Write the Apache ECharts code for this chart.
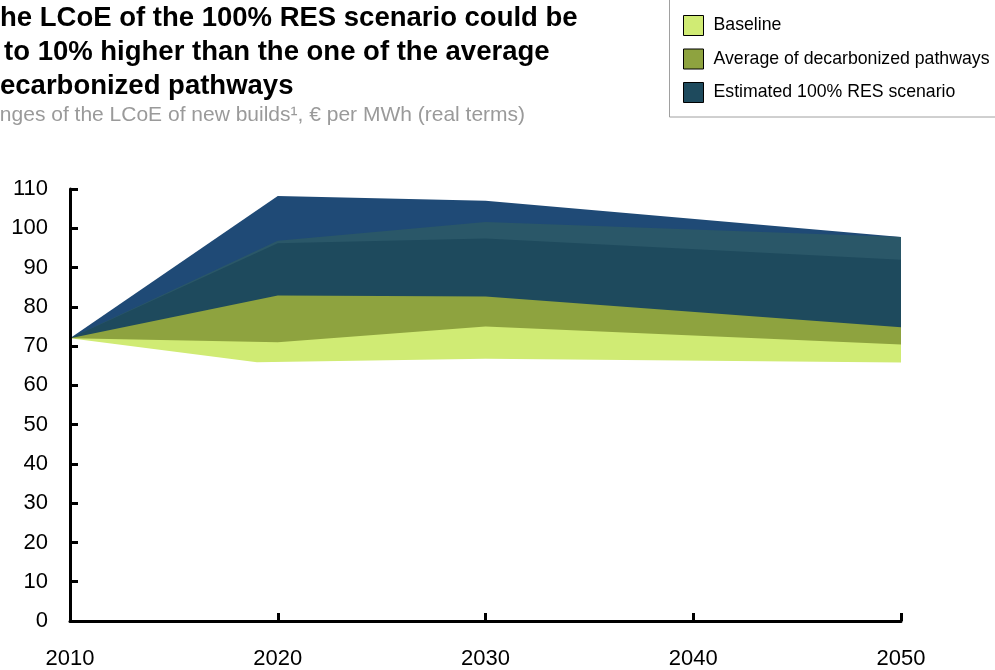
<!DOCTYPE html>
<html>
<head>
<meta charset="utf-8">
<script src="https://cdn.jsdelivr.net/npm/echarts@6/dist/echarts.min.js"></script>
<style>
html,body{margin:0;padding:0;background:#fff;}
#chart{width:995px;height:670px;}
</style>
</head>
<body>
<div id="chart"></div>
<script>
// ---- data ----
const years = [2010, 2020, 2030, 2050];
const baselineLowYears = [2010, 2019, 2030, 2050];
const resUpper = [72, 108.2, 107, 97.8];          // upper edge of 100% RES range
const resOverlapUpper = [72, 96.8, 101.6, 97.8];  // upper edge of overlap band
const resCoreUpper = [72, 96.2, 97.4, 92];        // upper edge of core RES band
const decarbUpper = [72, 82.9, 82.6, 74.8];       // upper edge of decarbonized pathways
const baselineUpper = [72, 71, 75, 70.4];         // upper edge of baseline
const baselineLower = [72, 65.9, 66.8, 65.8];     // lower edge of baseline
const xTickLabels = ['2010', '2020', '2030', '2040', '2050'];
const yTickLabels = ['0','10','20','30','40','50','60','70','80','90','100','110'];
const legendNames = ['Baseline', 'Average of decarbonized pathways', 'Estimated 100% RES scenario'];
const titleLines = ['The LCoE of the 100% RES scenario could be', 'up to 10% higher than the one of the average', 'decarbonized pathways'];
const subtitle = 'Ranges of the LCoE of new builds\u00B9, \u20AC per MWh (real terms)';

const pairs = (xs, ys) => xs.map((x, i) => [x, ys[i]]);
const FONT = 'Liberation Sans, Arial, sans-serif';

function band(name, xs, ys, color) {
  return {
    name: name,
    type: 'line',
    data: pairs(xs, ys),
    showSymbol: false,
    symbol: 'none',
    smooth: false,
    silent: true,
    color: color,
    itemStyle: { color: color },
    lineStyle: { width: 0, color: color },
    areaStyle: { color: color, opacity: 1 },
    z: 2
  };
}

const chart = echarts.init(document.getElementById('chart'), null, { renderer: 'canvas' });
chart.setOption({
  animation: false,
  backgroundColor: '#fff',
  textStyle: { fontFamily: FONT },
  grid: { left: 70, right: 94, top: 189, bottom: 47, containLabel: false },
  xAxis: {
    type: 'value', min: 2010, max: 2050, interval: 10, z: 5,
    axisLine: { lineStyle: { color: '#000', width: 3 } },
    axisTick: { inside: true, length: 8, lineStyle: { color: '#000', width: 3 } },
    axisLabel: {
      margin: 27, color: '#000', fontSize: 22, fontFamily: FONT,
      formatter: v => xTickLabels[Math.round((v - 2010) / 10)]
    },
    splitLine: { show: false }
  },
  yAxis: {
    type: 'value', min: 0, max: 110, interval: 10, z: 5,
    axisLine: { show: true, lineStyle: { color: '#000', width: 3 } },
    axisTick: { show: true, inside: true, length: 8, lineStyle: { color: '#000', width: 3 } },
    axisLabel: {
      margin: 22, color: '#000', fontSize: 22, fontFamily: FONT,
      formatter: v => yTickLabels[Math.round(v / 10)]
    },
    splitLine: { show: false }
  },
  legend: {
    data: legendNames,
    orient: 'vertical',
    left: 683, top: 15, padding: 0,
    itemWidth: 20, itemHeight: 20, itemGap: 12.5,
    icon: 'rect',
    selectedMode: false,
    itemStyle: { borderColor: '#000', borderWidth: 1 },
    textStyle: { color: '#000', fontSize: 17.7, fontFamily: FONT, padding: [0, 0, 0, 5] }
  },
  graphic: [
    { type: 'rect', shape: { x: 669.5, y: -5, width: 340, height: 122 },
      style: { fill: 'none', stroke: '#a0a0a0', lineWidth: 1 }, z: 0 },
    { type: 'text', x: -16.8, y: 18, style: { text: titleLines[0], font: 'bold 27.5px ' + FONT, fill: '#000', verticalAlign: 'middle' } },
    { type: 'text', x: -37.2, y: 52, style: { text: titleLines[1], font: 'bold 27.5px ' + FONT, fill: '#000', verticalAlign: 'middle' } },
    { type: 'text', x: -16.8, y: 86, style: { text: titleLines[2], font: 'bold 27.5px ' + FONT, fill: '#000', verticalAlign: 'middle' } },
    { type: 'text', x: -27, y: 115, style: { text: subtitle, font: '21px ' + FONT, fill: '#9a9a9a', verticalAlign: 'middle' } }
  ],
  series: [
    band('100% RES upper range', years, resUpper, '#1f4a76'),
    band('100% RES overlap', years, resOverlapUpper, '#2a5768'),
    band('Estimated 100% RES scenario', years, resCoreUpper, '#1e4a5d'),
    band('Average of decarbonized pathways', years, decarbUpper, '#8ea33f'),
    band('Baseline', years, baselineUpper, '#d0eb74'),
    band('Below baseline', baselineLowYears, baselineLower, '#ffffff')
  ]
});
</script>
</body>
</html>
